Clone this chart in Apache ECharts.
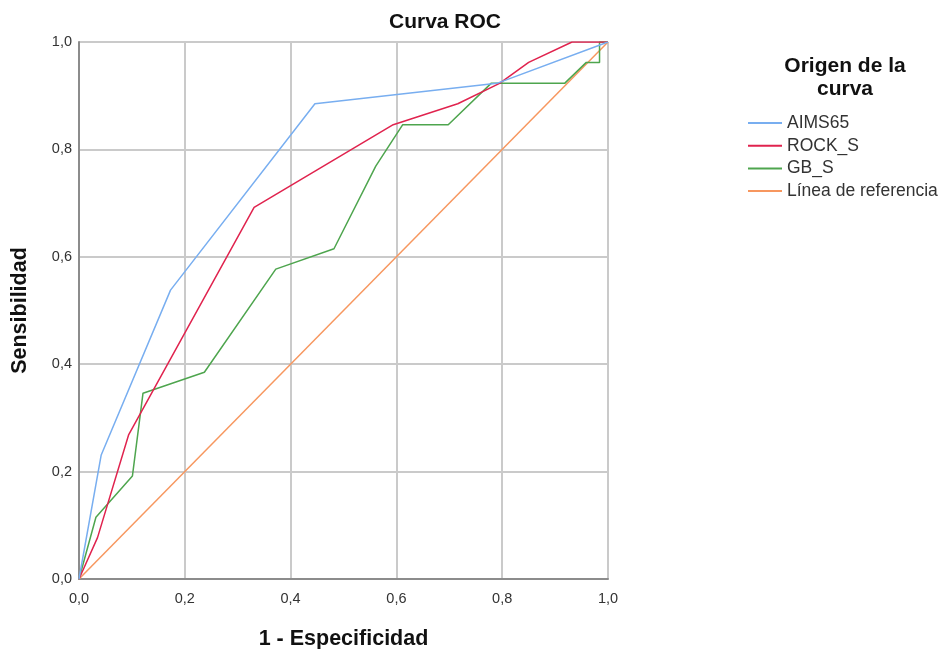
<!DOCTYPE html>
<html>
<head>
<meta charset="utf-8">
<script src="https://cdn.jsdelivr.net/npm/echarts@6/dist/echarts.min.js"></script>
<style>
  html, body { margin: 0; padding: 0; background: #fff; }
  #chart { width: 942px; height: 649px; }
</style>
</head>
<body>
<div id="chart"></div>
<script>
// ROC curve points (1 - especificidad, sensibilidad)
const aimsX = [0, 0.042, 0.173, 0.446, 0.79, 1];
const aimsY = [0, 0.231, 0.538, 0.885, 0.923, 1];

const rockX = [0, 0.035, 0.094, 0.331, 0.594, 0.716, 0.795, 0.85, 0.932, 1];
const rockY = [0, 0.077, 0.269, 0.692, 0.846, 0.885, 0.923, 0.962, 1, 1];

const gbX = [0, 0.032, 0.101, 0.121, 0.237, 0.372, 0.482, 0.561, 0.612, 0.698, 0.779, 0.918, 0.959, 0.984, 0.984, 1];
const gbY = [0, 0.115, 0.192, 0.346, 0.385, 0.577, 0.615, 0.769, 0.846, 0.846, 0.923, 0.923, 0.962, 0.962, 1, 1];

const refX = [0, 1];
const refY = [0, 1];

const seriesNames = ['AIMS65', 'ROCK_S', 'GB_S', 'Línea de referencia'];
const seriesColors = ['#78aef0', '#e0234e', '#4ea54e', '#f7975f'];

const zip = (xs, ys) => xs.map((x, i) => [x, ys[i]]);
const seriesData = [zip(aimsX, aimsY), zip(rockX, rockY), zip(gbX, gbY), zip(refX, refY)];

const comma = v => v.toFixed(1).replace('.', ',');

const myChart = echarts.init(document.getElementById('chart'));
const option = {
  animation: false,
  backgroundColor: '#fff',
  textStyle: { fontFamily: 'Liberation Sans, Arial, sans-serif' },
  title: [
    {
      text: 'Curva ROC',
      left: 445,
      top: 12,
      padding: 0,
      textAlign: 'center',
      textStyle: { fontSize: 21, fontWeight: 'bold', color: '#111' }
    },
    {
      text: 'Origen de la\ncurva',
      left: 845,
      top: 55,
      padding: 0,
      textAlign: 'center',
      textStyle: { fontSize: 21, fontWeight: 'bold', color: '#111', lineHeight: 23 }
    }
  ],
  legend: {
    orient: 'vertical',
    left: 748,
    top: 114,
    padding: 0,
    itemWidth: 34,
    itemHeight: 2,
    itemGap: 4.7,
    icon: 'rect',
    textStyle: { fontSize: 17.5, lineHeight: 18, color: '#333' },
    data: seriesNames
  },
  grid: { left: 79, right: 334, top: 42, bottom: 70, outerBoundsMode: 'none' },
  xAxis: {
    type: 'value',
    min: 0,
    max: 1,
    interval: 0.2,
    name: '1 - Especificidad',
    nameLocation: 'middle',
    nameGap: 49,
    nameTextStyle: { fontSize: 21.5, fontWeight: 'bold', color: '#111' },
    axisLine: { lineStyle: { color: '#8c8c8c', width: 2 } },
    axisTick: { show: false },
    axisLabel: { formatter: comma, fontSize: 14.5, color: '#333', margin: 12 },
    splitLine: { lineStyle: { color: '#cacaca', width: 2 } }
  },
  yAxis: {
    type: 'value',
    min: 0,
    max: 1,
    interval: 0.2,
    name: 'Sensibilidad',
    nameLocation: 'middle',
    nameGap: 48,
    nameTextStyle: { fontSize: 21.5, fontWeight: 'bold', color: '#111' },
    axisLine: { show: true, lineStyle: { color: '#8c8c8c', width: 2 } },
    axisTick: { show: false },
    axisLabel: { formatter: comma, fontSize: 14.5, color: '#333', margin: 7 },
    splitLine: { lineStyle: { color: '#cacaca', width: 2 } }
  },
  series: seriesNames.map((name, i) => ({
    name: name,
    type: 'line',
    data: seriesData[i],
    showSymbol: false,
    color: seriesColors[i],
    lineStyle: { width: 1.5, color: seriesColors[i] },
    z: i === 3 ? 1 : 4 - i
  }))
};
myChart.setOption(option);
</script>
</body>
</html>
